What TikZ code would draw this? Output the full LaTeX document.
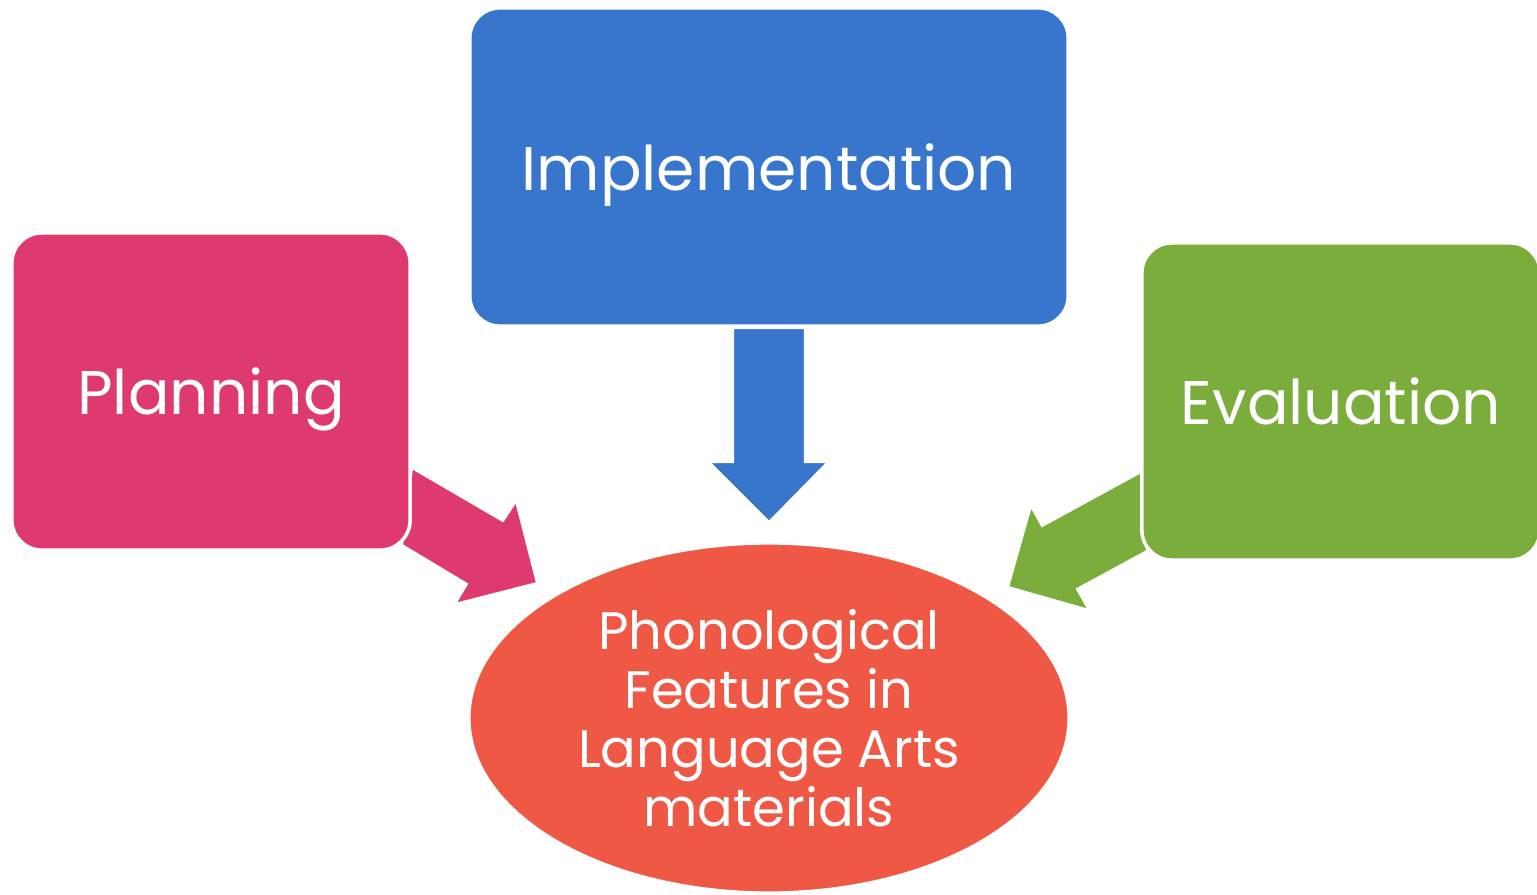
\documentclass[tikz,border=0pt]{standalone}
\usepackage{fontspec}
\setmainfont{Poppins}
\usetikzlibrary{shapes.geometric}
\definecolor{planpink}{RGB}{222,58,110}
\definecolor{implblue}{RGB}{55,118,204}
\definecolor{evalgreen}{RGB}{122,173,60}
\definecolor{featred}{RGB}{239,88,69}
\tikzset{
  stagebox/.style={rectangle, rounded corners=0.3cm, draw=white, line width=1pt, text=white, text depth=0pt, font=\fontsize{17.5}{21}\selectfont},
  blockarrow/.style={draw=white, line width=0.6pt}
}
\begin{document}
\begin{tikzpicture}[x=0.01cm, y=-0.01cm]
        \useasboundingbox (0,0) rectangle (1537,894);

        % Arrows
        \filldraw[blockarrow, fill=planpink] (402,545) -- (412,468) -- (503,521) -- (516,501) -- (537,583) -- (455,604) -- (467,584) -- cycle;
        \filldraw[blockarrow, fill=evalgreen] (1141,472) -- (1042,526) -- (1031,506) -- (1008,587) -- (1089,610) -- (1077,589) -- (1147,551) -- cycle;
        \filldraw[blockarrow, fill=implblue] (733,328) -- (805,328) -- (805,462) -- (828,462) -- (769,522) -- (709,462) -- (733,462) -- cycle;

        % Stages
        \node[stagebox, fill=planpink, minimum width=3.98cm, minimum height=3.17cm] (planning) at (211,391.5) {Planning};
        \node[stagebox, fill=implblue, minimum width=5.98cm, minimum height=3.18cm] (implementation) at (769,167) {Implementation};
        \node[stagebox, fill=evalgreen, minimum width=3.98cm, minimum height=3.17cm] (evaluation) at (1341,401.5) {Evaluation};

        % Centre
        \node[ellipse, draw=white, line width=1pt, fill=featred, minimum width=6cm, minimum height=3.5cm, inner sep=0pt, text=white, align=center, font=\fontsize{15}{16.8}\selectfont] (features) at (769,718) {Phonological\\Features in\\Language Arts\\materials};
\end{tikzpicture}
\end{document}
